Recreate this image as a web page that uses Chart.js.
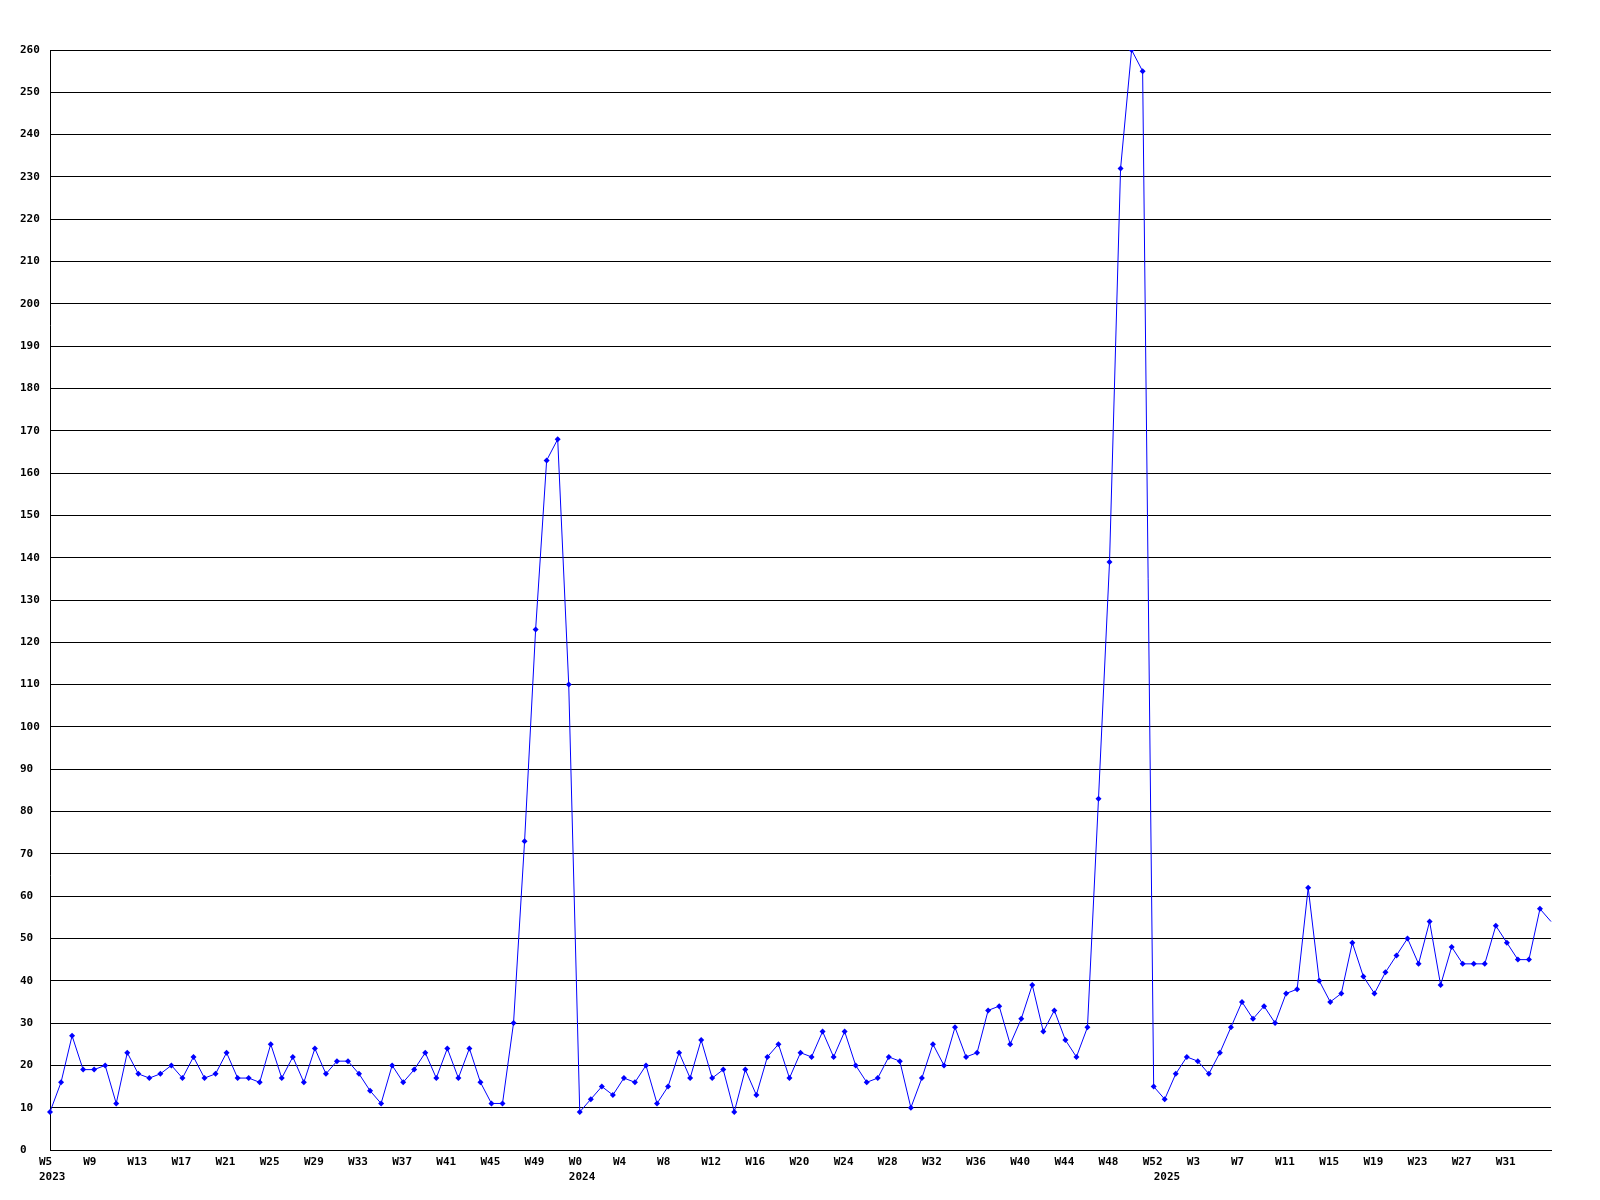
<!DOCTYPE html>
<html>
<head>
<meta charset="utf-8">
<script src="https://cdn.jsdelivr.net/npm/chart.js@4/dist/chart.umd.min.js"></script>
<style>
  html, body { margin: 0; padding: 0; background: #ffffff; }
  #wrap { width: 1600px; height: 1200px; }
</style>
</head>
<body>
<div id="wrap"><canvas id="c" width="1600" height="1200"></canvas></div>
<script>
// ---- data ----
const years = ['2023', '2024', '2025'];
const weeks2023 = [5,6,7,8,9,10,11,12,13,14,15,16,17,18,19,20,21,22,23,24,25,26,27,28,29,30,31,32,33,34,35,36,37,38,39,40,41,42,43,44,45,46,47,48,49,50,51,52];
const weeks2024 = [0,1,2,3,4,5,6,7,8,9,10,11,12,13,14,15,16,17,18,19,20,21,22,23,24,25,26,27,28,29,30,31,32,33,34,35,36,37,38,39,40,41,42,43,44,45,46,47,48,49,50,51,52];
const weeks2025 = [0,1,2,3,4,5,6,7,8,9,10,11,12,13,14,15,16,17,18,19,20,21,22,23,24,25,26,27,28,29,30,31,32,33,34,35];

const values2023 = [9,16,27,19,19,20,11,23,18,17,18,20,17,22,17,18,23,17,17,16,25,17,22,16,24,18,21,21,18,14,11,20,16,19,23,17,24,17,24,16,11,11,30,73,123,163,168,110];
const values2024 = [9,12,15,13,17,16,20,11,15,23,17,26,17,19,9,19,13,22,25,17,23,22,28,22,28,20,16,17,22,21,10,17,25,20,29,22,23,33,34,25,31,39,28,33,26,22,29,83,139,232,260,255,15];
const values2025 = [12,18,22,21,18,23,29,35,31,34,30,37,38,62,40,35,37,49,41,37,42,46,50,44,54,39,48,44,44,44,53,49,45,45,57,54];

const yTicks = [0,10,20,30,40,50,60,70,80,90,100,110,120,130,140,150,160,170,180,190,200,210,220,230,240,250,260];

// ---- build categories ----
const weekBlocks = [weeks2023, weeks2024, weeks2025];
const categories = [];
const yearStart = {};
weekBlocks.forEach((wk, yi) => {
  yearStart[categories.length] = years[yi];
  wk.forEach(w => categories.push('W' + w));
});
const values = values2023.concat(values2024, values2025);
const LABEL_EVERY = 4;

const FONT = { family: '"DejaVu Sans Mono", "Liberation Mono", monospace', size: 11, weight: 'bold', lineHeight: 1.35 };

new Chart(document.getElementById('c'), {
  type: 'line',
  data: {
    labels: categories,
    datasets: [{
      data: values,
      borderColor: '#0000ff',
      backgroundColor: '#0000ff',
      borderWidth: 1,
      tension: 0,
      fill: false,
      pointStyle: 'rectRot',
      pointRadius: (ctx) => ctx.dataIndex === values.length - 1 ? 0 : 3,
      pointBorderWidth: 0,
      pointBackgroundColor: '#0000ff'
    }]
  },
  options: {
    responsive: false,
    animation: false,
    devicePixelRatio: 1,
    layout: { padding: { left: 20, right: 49, top: 50, bottom: 0 } },
    plugins: { legend: { display: false }, tooltip: { enabled: false }, title: { display: false } },
    scales: {
      x: {
        type: 'category',
        offset: false,
        grid: { display: false, drawTicks: false },
        border: { display: true, color: '#000000', width: 1 },
        afterFit: (s) => { s.height = 50; },
        ticks: {
          autoSkip: false,
          maxRotation: 0,
          minRotation: 0,
          align: 'start',
          labelOffset: -11,
          padding: 5,
          color: '#000000',
          font: FONT,
          callback: function (v, i) {
            const isLast = i === categories.length - 1;
            const wk = (i % LABEL_EVERY === 0 && !isLast) ? categories[i] : '';
            const yr = yearStart[i];
            if (yr !== undefined) return [wk, yr];
            return wk;
          }
        }
      },
      y: {
        min: 0,
        max: 260,
        afterFit: (s) => { s.width = 30; },
        afterBuildTicks: (s) => { s.ticks = yTicks.map(v => ({ value: v })); },
        grid: { display: true, color: '#000000', lineWidth: 1, drawTicks: false },
        border: { display: true, color: '#000000', width: 1 },
        ticks: {
          crossAlign: 'far',
          padding: 10,
          color: '#000000',
          font: FONT
        }
      }
    }
  }
});
</script>
</body>
</html>
